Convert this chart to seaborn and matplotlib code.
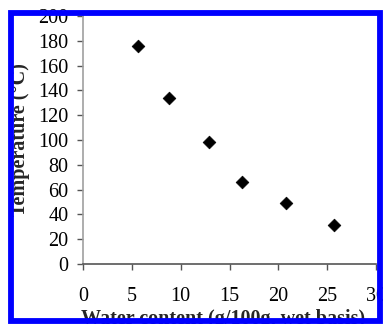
import matplotlib
matplotlib.use("Agg")
import matplotlib.pyplot as plt
import seaborn as sns
import pandas as pd
from matplotlib.patches import Rectangle

water_content = [5.6, 8.8, 12.9, 16.3, 20.8, 25.7]
temperature = [176, 134, 98, 66.5, 49.5, 31.5]
x_ticks = [0, 5, 10, 15, 20, 25, 30]
y_ticks = [0, 20, 40, 60, 80, 100, 120, 140, 160, 180, 200]

df = pd.DataFrame({"Water content": water_content, "Temperature": temperature})

sns.set_style("white")
plt.rcParams["font.family"] = ["Liberation Serif", "DejaVu Serif"]

W, H = 383, 324
fig = plt.figure(figsize=(W / 100, H / 100), dpi=100)
fig.patch.set_facecolor("white")
ax = fig.add_axes([83 / W, (H - 264) / H, (376 - 83) / W, (264 - 16) / H])

sns.scatterplot(data=df, x="Water content", y="Temperature", marker="D",
                color="black", s=42, edgecolor="black", linewidth=0.5, ax=ax,
                clip_on=False, zorder=3)

ax.set_xlim(0, 30)
ax.set_ylim(0, 200)
ax.set_xticks(x_ticks)
ax.set_yticks(y_ticks)
ax.set_xticklabels([str(v) for v in x_ticks], fontsize=14.5)
ax.set_yticklabels([str(v) for v in y_ticks], fontsize=14.5)

for s in ["top", "right"]:
    ax.spines[s].set_visible(False)
ax.spines["left"].set_color("#a0a0a0")
ax.spines["left"].set_linewidth(1.2)
ax.spines["bottom"].set_color("#555555")
ax.spines["bottom"].set_linewidth(1.2)

ax.tick_params(axis="y", direction="out", length=4.3, width=1.0, color="#555555",
               pad=6, left=True, labelcolor="black")
ax.tick_params(axis="x", direction="out", length=4.3, width=1.0, color="#555555",
               pad=12, bottom=True, labelcolor="black")

ax.set_xlabel("Water content (g/100g, wet basis)", fontsize=14.5, fontweight="bold")
ax.set_ylabel("Temperature (°C)", fontsize=14.5, fontweight="bold")
ax.xaxis.set_label_coords(0.478, -0.182)
ax.yaxis.set_label_coords(-0.18, 0.5)

# blue frame (pixel centres of the frame lines)
x0, x1, y0, y1 = 10.5, 380.2, 12.5, 321.2
rect = Rectangle((x0 / W, 1 - y1 / H), (x1 - x0) / W, (y1 - y0) / H,
                 transform=fig.transFigure, fill=False, edgecolor="#0000ff",
                 linewidth=4.2, zorder=100, clip_on=False)
fig.patches.append(rect)

fig.savefig("out.png", dpi=100, facecolor="white")
